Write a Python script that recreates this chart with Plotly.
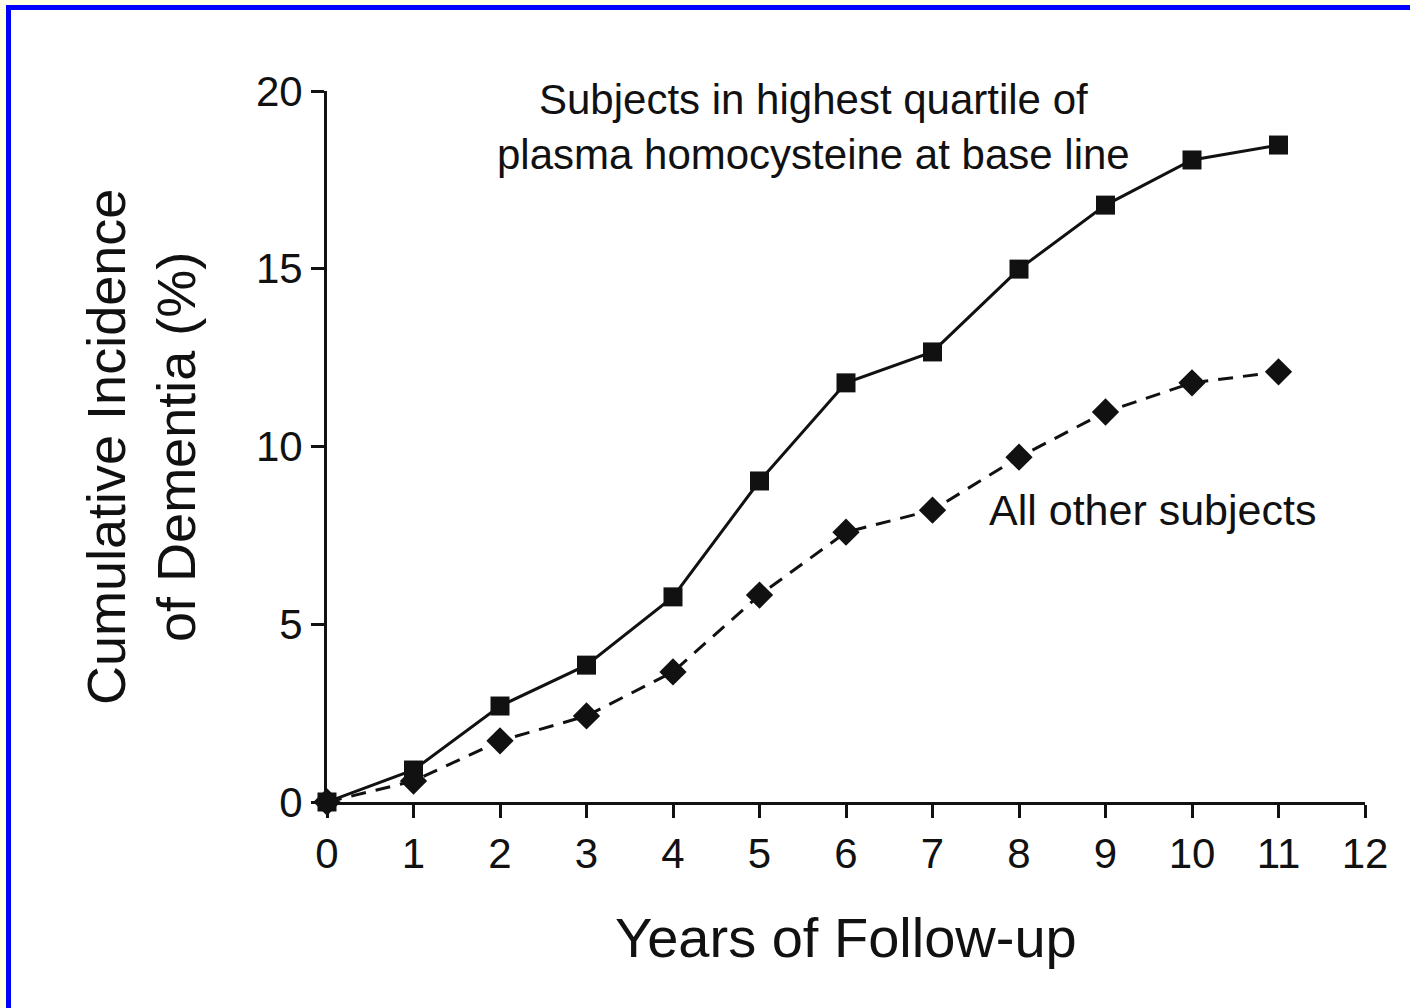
import plotly.graph_objects as go

years = [0, 1, 2, 3, 4, 5, 6, 7, 8, 9, 10, 11]
highest_quartile = [0, 0.9, 2.7, 3.85, 5.77, 9.03, 11.79, 12.66, 14.99, 16.79, 18.06, 18.48]
all_other = [0, 0.59, 1.72, 2.42, 3.66, 5.82, 7.59, 8.21, 9.70, 10.97, 11.79, 12.10]
x_ticks = list(range(0, 13))
y_ticks = [0, 5, 10, 15, 20]

W, H = 1410, 1008
L, R, T, B = 327, 1365, 91, 802  # plot area pixel bounds

def px_x(p):
    return (p - L) / (R - L)

def px_y(p):
    return (B - p) / (B - T)

FONT = "Liberation Sans, Arial, sans-serif"
INK = "#111111"

fig = go.Figure()
fig.add_trace(go.Scatter(
    x=years, y=highest_quartile, mode="lines+markers",
    line=dict(color=INK, width=3),
    marker=dict(symbol="square", size=19, color=INK),
    cliponaxis=False, showlegend=False))
fig.add_trace(go.Scatter(
    x=years, y=all_other, mode="lines+markers",
    line=dict(color=INK, width=3, dash="15px,10px"),
    marker=dict(symbol="diamond", size=21, color=INK),
    cliponaxis=False, showlegend=False))

axis_common = dict(
    showgrid=False, zeroline=False, showline=True, linecolor=INK, linewidth=3,
    ticks="outside", ticklen=13, tickwidth=2.5, tickcolor=INK,
    tickfont=dict(family=FONT, size=42, color=INK),
)
fig.update_xaxes(range=[0, 12], tickvals=x_ticks, **axis_common)
fig.update_yaxes(range=[0, 20], tickvals=y_ticks, **axis_common)

annotations = [
    dict(text="Subjects in highest quartile of<br>plasma homocysteine at base line",
         x=5.62, y=18.99, xref="x", yref="y", showarrow=False,
         xanchor="center", yanchor="middle",
         font=dict(family=FONT, size=42, color=INK), align="center"),
    dict(text="All other subjects", x=9.54, y=8.21, xref="x", yref="y",
         xanchor="center", yanchor="middle",
         showarrow=False, font=dict(family=FONT, size=43, color=INK)),
    dict(text="Years of Follow-up", x=px_x(846), y=px_y(937), xref="paper", yref="paper",
         xanchor="center", yanchor="middle",
         showarrow=False, font=dict(family=FONT, size=56, color=INK)),
    dict(text="Cumulative Incidence<br>of Dementia (%)", x=px_x(141), y=px_y(447),
         xref="paper", yref="paper", showarrow=False, textangle=-90,
         xanchor="center", yanchor="middle",
         font=dict(family=FONT, size=54, color=INK), align="center"),
]

shapes = [
    dict(type="rect", xref="paper", yref="paper", x0=px_x(0), x1=px_x(W), y0=px_y(0), y1=px_y(5),
         fillcolor="#FFFFE8", line=dict(width=0), layer="below"),
    dict(type="rect", xref="paper", yref="paper", x0=px_x(0), x1=px_x(6), y0=px_y(0), y1=px_y(H),
         fillcolor="#FFFFE8", line=dict(width=0), layer="below"),
    dict(type="rect", xref="paper", yref="paper", x0=px_x(6), x1=px_x(W), y0=px_y(5), y1=px_y(10),
         fillcolor="#0000FF", line=dict(width=0), layer="below"),
    dict(type="rect", xref="paper", yref="paper", x0=px_x(6), x1=px_x(11), y0=px_y(5), y1=px_y(H),
         fillcolor="#0000FF", line=dict(width=0), layer="below"),
]

fig.update_layout(
    width=W, height=H,
    margin=dict(l=L, r=W - R, t=T, b=H - B, autoexpand=False),
    paper_bgcolor="white", plot_bgcolor="white",
    annotations=annotations, shapes=shapes,
)
fig.write_html("out.html", config={"displayModeBar": False},
               post_script="document.body.style.margin='0';document.body.style.overflow='hidden';")
